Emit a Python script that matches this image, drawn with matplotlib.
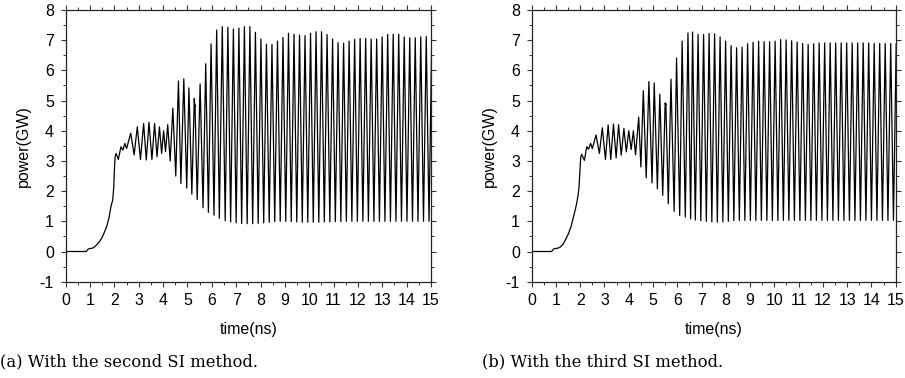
import numpy as np
import matplotlib
matplotlib.use("Agg")
import matplotlib.pyplot as plt
from matplotlib.ticker import MultipleLocator

# ---------------- panel (a): second SI method ----------------
early_t_a = [0.0, 0.85, 0.92, 1.0, 1.1, 1.18, 1.27, 1.38, 1.48, 1.58, 1.68, 1.78, 1.86, 1.93, 1.97,
             2.0, 2.03, 2.07, 2.16, 2.27, 2.35, 2.43, 2.50,
             2.67, 2.81, 2.94, 3.07, 3.20, 3.31, 3.42, 3.54, 3.65, 3.75, 3.85, 3.94, 4.02, 4.10,
             4.19, 4.29, 4.40, 4.52, 4.63, 4.73, 4.85, 4.97, 5.06, 5.18, 5.28, 5.30, 5.31, 5.40,
             5.52, 5.64, 5.75, 5.86, 5.97, 6.09, 6.20, 6.31, 6.43, 6.55]
early_v_a = [0.0, 0.0, 0.08, 0.1, 0.11, 0.15, 0.22, 0.32, 0.44, 0.62, 0.82, 1.12, 1.50, 1.70, 2.10,
             2.70, 3.15, 3.25, 3.05, 3.47, 3.36, 3.58, 3.41,
             3.92, 3.20, 4.13, 3.05, 4.24, 3.03, 4.28, 3.05, 4.24, 3.14, 4.13, 3.25, 4.00, 3.31,
             4.20, 3.00, 4.75, 2.50, 5.65, 2.25, 5.72, 2.10, 5.42, 1.90, 5.07, 4.80, 4.86, 1.72,
             5.55, 1.45, 6.22, 1.30, 6.88, 1.20, 7.34, 1.10, 7.45, 1.02]
start_a = 6.66
period_a = 0.2263
peaks_a = [7.43, 7.37, 7.40, 7.45, 7.45, 7.26, 7.04, 6.87, 6.86, 6.97, 7.09, 7.23, 7.20,
           7.17, 7.15, 7.23, 7.28, 7.28, 7.19, 7.04, 6.92, 6.90, 6.97, 7.03, 7.06, 7.06,
           7.04, 7.04, 7.11, 7.19, 7.20, 7.20, 7.11, 7.08, 7.08, 7.11, 7.12, 7.10]
troughs_a = [0.98, 0.95, 0.93, 0.92, 0.92, 0.93, 0.95, 0.97, 0.99, 1.00, 1.00, 0.99, 0.98,
             0.97, 0.97, 0.97, 0.97, 0.98, 0.98, 0.99, 0.99, 1.00, 1.00, 1.00, 1.00, 1.00,
             1.00, 1.00, 1.00, 1.00, 1.00, 1.00, 1.00, 1.00, 1.00, 1.00, 1.00, 1.00]

# ---------------- panel (b): third SI method ----------------
early_t_b = [0.0, 0.82, 0.9, 0.98, 1.08, 1.18, 1.30, 1.40, 1.51, 1.62, 1.72, 1.80, 1.85, 1.91, 1.95,
             1.99, 2.02, 2.06, 2.17, 2.27, 2.34, 2.43, 2.50,
             2.65, 2.79, 2.91, 3.04, 3.15, 3.26, 3.37, 3.48, 3.58, 3.69, 3.80, 3.90, 4.00, 4.10,
             4.19, 4.28, 4.41, 4.50, 4.60, 4.72, 4.83, 4.96, 5.05, 5.18, 5.28, 5.40, 5.50, 5.52,
             5.53, 5.63, 5.74, 5.87, 5.97, 6.10, 6.20, 6.33, 6.44, 6.55]
early_v_b = [0.0, 0.0, 0.08, 0.1, 0.11, 0.15, 0.25, 0.40, 0.58, 0.82, 1.14, 1.40, 1.58, 1.85, 2.13,
             2.70, 3.13, 3.22, 3.02, 3.47, 3.39, 3.58, 3.41,
             3.86, 3.25, 4.10, 3.05, 4.19, 3.05, 4.22, 3.10, 4.20, 3.19, 4.08, 3.30, 4.00, 3.38,
             4.00, 3.20, 4.45, 2.80, 5.33, 2.44, 5.63, 2.27, 5.58, 2.08, 5.21, 1.86, 4.92, 4.86,
             4.90, 1.58, 5.71, 1.33, 6.41, 1.19, 6.97, 1.14, 7.24, 1.08]
start_b = 6.63
period_b = 0.2268
peaks_b = [7.27, 7.19, 7.19, 7.22, 7.21, 7.11, 6.97, 6.82, 6.75, 6.77, 6.88, 6.93, 6.97,
           6.95, 6.95, 6.97, 7.02, 7.01, 6.98, 6.94, 6.89, 6.86, 6.88, 6.91, 6.91, 6.91,
           6.91, 6.91, 6.91, 6.91, 6.91, 6.91, 6.91, 6.89, 6.89, 6.89, 6.89, 6.89]
troughs_b = [1.04, 1.02, 1.00, 0.98, 0.97, 0.98, 1.00, 1.02, 1.03, 1.03, 1.03, 1.03, 1.03,
             1.03, 1.03, 1.03, 1.03, 1.03, 1.03, 1.03, 1.03, 1.03, 1.03, 1.03, 1.03, 1.03,
             1.03, 1.03, 1.03, 1.03, 1.03, 1.03, 1.03, 1.03, 1.03, 1.03, 1.03, 1.03]

x_ticks = list(range(0, 16))
y_ticks = list(range(-1, 9))
x_label = "time(ns)"
y_label = "power(GW)"
captions = ["(a) With the second SI method.", "(b) With the third SI method."]


def build(early_t, early_v, start, period, peaks, troughs):
    t = list(early_t)
    v = list(early_v)
    for k, (p, q) in enumerate(zip(peaks, troughs)):
        t.append(start + k * period)
        v.append(p)
        t.append(start + (k + 0.5) * period)
        v.append(q)
    return np.array(t), np.array(v)


series = [build(early_t_a, early_v_a, start_a, period_a, peaks_a, troughs_a),
          build(early_t_b, early_v_b, start_b, period_b, peaks_b, troughs_b)]

plt.rcParams['font.family'] = ['Liberation Sans', 'DejaVu Sans']
plt.rcParams['axes.unicode_minus'] = False
fig = plt.figure(figsize=(9.05, 3.78), dpi=100)
positions = [[0.0726, 0.2548, 0.4036, 0.7187], [0.5875, 0.2548, 0.4022, 0.7187]]
caption_x = [0.0, 0.533]

for i, (t, v) in enumerate(series):
    ax = fig.add_axes(positions[i])
    ax.plot(t, v, color="black", lw=0.9, clip_on=True)
    ax.set_xlim(0, 15)
    ax.set_ylim(-1, 8)
    ax.set_xticks(x_ticks)
    ax.set_yticks(y_ticks)
    ax.xaxis.set_minor_locator(MultipleLocator(0.5))
    ax.yaxis.set_minor_locator(MultipleLocator(0.5))
    ax.tick_params(which="both", direction="out", top=True, right=True,
                   labeltop=False, labelright=False, color="#333333")
    ax.tick_params(which="major", length=3.5, width=0.8, labelsize=11.5, pad=5)
    ax.tick_params(which="minor", length=2.5, width=0.7)
    for s in ax.spines.values():
        s.set_color("#222222")
        s.set_linewidth(0.9)
    ax.set_xlabel(x_label, fontsize=11.5, labelpad=10)
    ax.set_ylabel(y_label, fontsize=11.5, labelpad=6)
    fig.text(caption_x[i], 0.042, captions[i], family="DejaVu Serif",
             fontsize=11.8, ha="left", va="center")

fig.savefig("out.png", dpi=100)
